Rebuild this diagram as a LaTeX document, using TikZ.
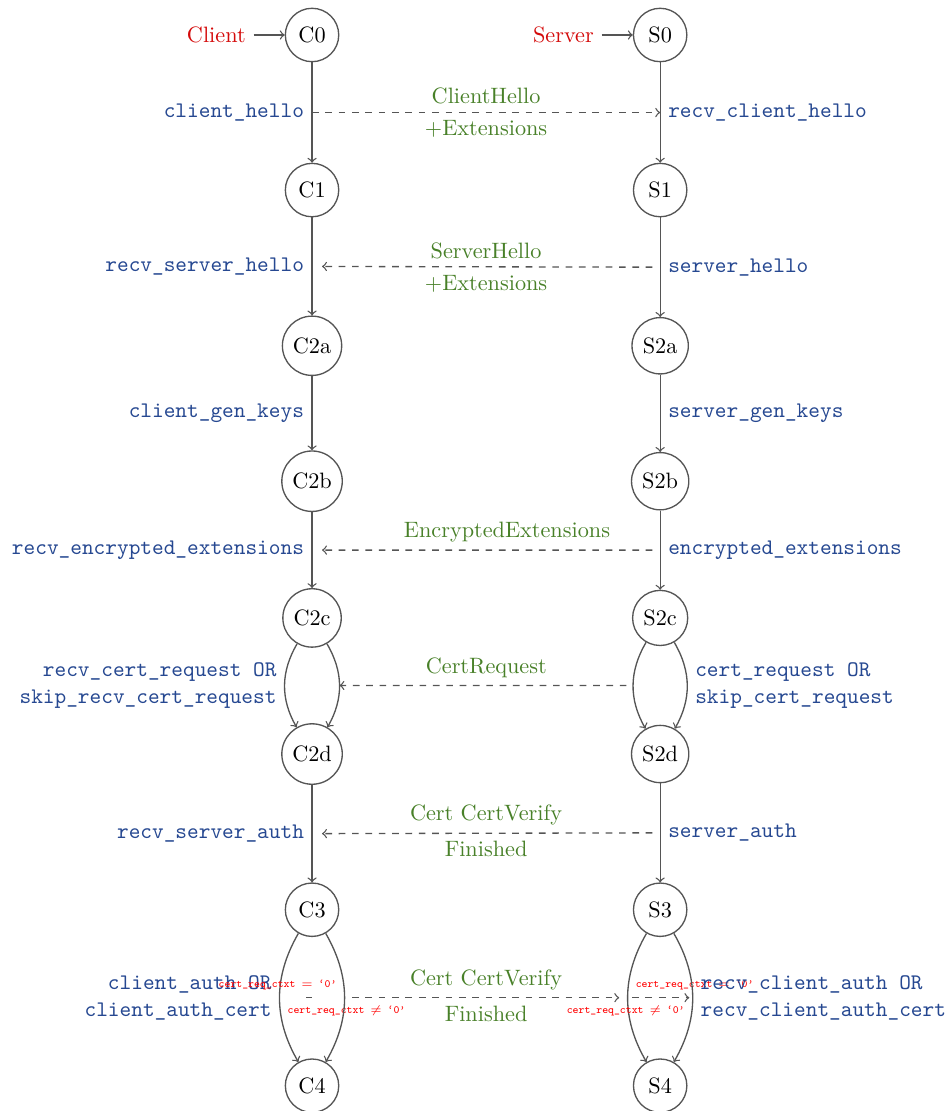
\documentclass[tikz,border=0pt]{standalone}
\usepackage{tikz}
\usepackage{xcolor}
\usetikzlibrary{positioning}

\definecolor{linegray}{RGB}{85,85,85}
\definecolor{actblue}{RGB}{38,72,145}
\definecolor{msggreen}{RGB}{72,128,40}
\definecolor{whored}{RGB}{212,10,10}

\tikzset{
  state/.style={circle, draw=linegray, semithick, minimum size=24pt, inner sep=3pt},
  trans/.style={->, draw=linegray, semithick},
  msg/.style={->, draw=linegray, semithick, dashed},
  act/.style={text=actblue, font=\ttfamily},
  msgtext/.style={text=msggreen},
  cond/.style={text=red, font=\tiny\ttfamily},
  who/.style={text=whored},
}

\begin{document}
\begin{tikzpicture}
  \useasboundingbox (-4.93,0.553) rectangle (10.06,-17.0);

  \node (C0) [state] at (0,0) {C0};
  \node (C1) [state] at (0,-2.45) {C1};
  \node (C2a) [state] at (0,-4.91) {C2a};
  \node (C2b) [state] at (0,-7.05) {C2b};
  \node (C2c) [state] at (0,-9.21) {C2c};
  \node (C2d) [state] at (0,-11.36) {C2d};
  \node (C3) [state] at (0,-13.82) {C3};
  \node (C4) [state] at (0,-16.60) {C4};

  \node (S0) [state] at (5.5,0) {S0};
  \node (S1) [state] at (5.5,-2.45) {S1};
  \node (S2a) [state] at (5.5,-4.91) {S2a};
  \node (S2b) [state] at (5.5,-7.05) {S2b};
  \node (S2c) [state] at (5.5,-9.21) {S2c};
  \node (S2d) [state] at (5.5,-11.36) {S2d};
  \node (S3) [state] at (5.5,-13.82) {S3};
  \node (S4) [state] at (5.5,-16.60) {S4};

  \node (client) [who, left=14pt of C0] {Client};
  \node (server) [who, left=14pt of S0] {Server};
  \draw[trans] (client) -- (C0);
  \draw[trans] (server) -- (S0);

  % client side
  \draw[trans] (C0) -- node (a01) [act,left] {client\_hello} (C1);
  \draw[trans] (C1) -- node (a12) [act,left] {recv\_server\_hello} (C2a);
  \draw[trans] (C2a) -- node (a23) [act,left] {client\_gen\_keys} (C2b);
  \draw[trans] (C2b) -- node (a34) [act,left] {recv\_encrypted\_extensions} (C2c);
  \draw[trans] (C2c) to[bend right] node (a45) [act,left,align=right]
    {recv\_cert\_request OR\\skip\_recv\_cert\_request} (C2d);
  \draw[trans] (C2c) to[bend left] coordinate (a45r) (C2d);
  \draw[trans] (C2d) -- node (a56) [act,left] {recv\_server\_auth} (C3);
  \draw[trans] (C3) to[bend right] node (a67) [act,left,align=right]
    {client\_auth OR\\client\_auth\_cert}
    node (a67n) [cond,below right] {cert\_req\_ctxt $\neq$ \textquoteleft0\textquoteright} (C4);
  \draw[trans] (C3) to[bend left] coordinate (a67r)
    node (a67e) [cond,above left] {cert\_req\_ctxt $=$ \textquoteleft0\textquoteright} (C4);

  % server side
  \draw[trans] (S0) -- node (b01) [act,right] {recv\_client\_hello} (S1);
  \draw[trans] (S1) -- node (b12) [act,right] {server\_hello} (S2a);
  \draw[trans] (S2a) -- node (b23) [act,right] {server\_gen\_keys} (S2b);
  \draw[trans] (S2b) -- node (b34) [act,right] {encrypted\_extensions} (S2c);
  \draw[trans] (S2c) to[bend right] coordinate (b45l) (S2d);
  \draw[trans] (S2c) to[bend left] node (b45) [act,right,align=left]
    {cert\_request OR\\skip\_cert\_request} (S2d);
  \draw[trans] (S2d) -- node (b56) [act,right] {server\_auth} (S3);
  \draw[trans] (S3) to[bend right] coordinate (b67l)
    node (b67e) [cond,above right] {cert\_req\_ctxt $=$ \textquoteleft0\textquoteright} (S4);
  \draw[trans] (S3) to[bend left] node (b67) [act,right,align=left]
    {recv\_client\_auth OR\\recv\_client\_auth\_cert}
    node (b67n) [cond,below left] {cert\_req\_ctxt $\neq$ \textquoteleft0\textquoteright} (S4);

  % messages
  \draw[msg] (a01.east) -- node (m01) [msgtext,above] {ClientHello}
    node (m01x) [msgtext,below] {+Extensions} (b01.west);
  \draw[msg, shorten <=3.5pt, shorten >=4.5pt] (b12.west) -- node (m12) [msgtext,above] {ServerHello}
    node (m12x) [msgtext,below] {+Extensions} (a12.east);
  \draw[msg, shorten <=3.5pt, shorten >=4.5pt] (b34.west) --
    node (m34) [msgtext,above,pos=0.44] {EncryptedExtensions} (a34.east);
  \draw[msg, shorten <=3pt] (b45l) -- node (m45) [msgtext,above] {CertRequest} (a45r);
  \draw[msg, shorten <=3.5pt, shorten >=4.5pt] (b56.west) -- node (m56) [msgtext,above] {Cert CertVerify}
    node (m56x) [msgtext,below] {Finished} (a56.east);
  \path (a67.east) -- coordinate[pos=0.41] (stub0) coordinate[pos=0.5] (stub1) (a67r);
  \draw[linegray, semithick] (stub0) -- (stub1);
  \draw[msg, shorten <=3.4pt, shorten >=3.8pt] (a67r) -- node (m67) [msgtext,above] {Cert CertVerify}
    node (m67x) [msgtext,below] {Finished} (b67l);
  \draw[msg, shorten <=2pt, shorten >=1.5pt] (b67l) -- (b67.west);
\end{tikzpicture}
\end{document}
